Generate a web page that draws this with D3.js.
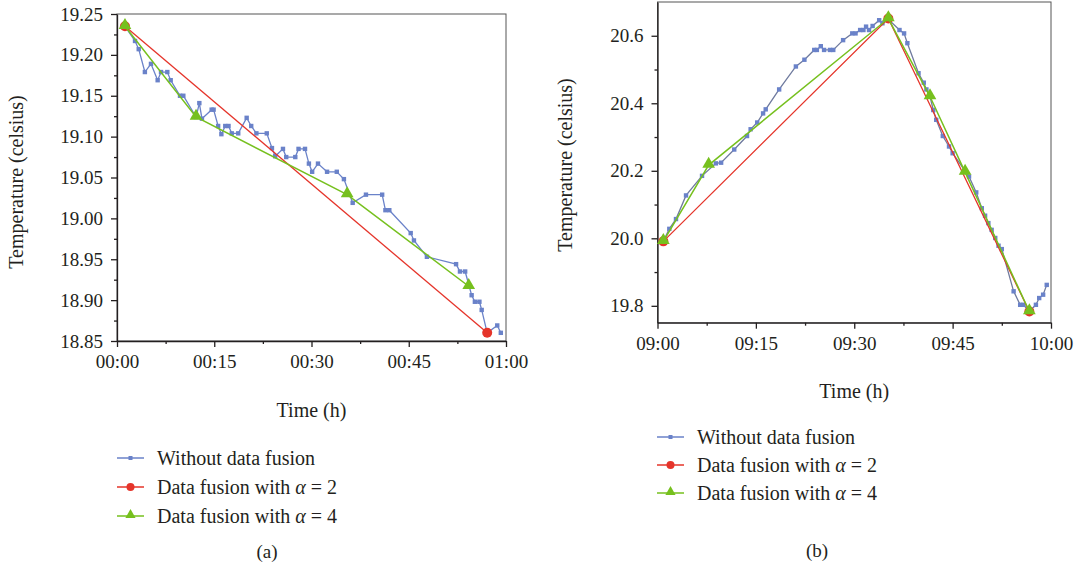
<!DOCTYPE html>
<html>
<head lang="en">
    <meta charset="UTF-8">
    <script type="text/javascript" src="https://cdn.jsdelivr.net/npm/d3@7"></script>
    <title></title>
</head>
<body style="margin:0;background:#fff">
<style>
    .axis path, .axis line{ stroke: #231f20; stroke-width: 1.3; }
</style>
<script type="text/javascript">
    // ---- panel (a) data: minutes after 00:00 ----
    var aBlueMin = [1.23, 2.78, 3.35, 4.3, 5.24, 6.27, 6.79, 7.76, 8.28, 9.72, 10.23, 12.2, 12.7, 13.1, 14.6, 14.9, 15.6, 16.1, 16.7, 17.2, 17.7, 18.7, 20.0, 20.7, 21.5, 23.1, 23.9, 24.4, 25.6, 26.1, 27.5, 28.0, 29.0, 29.6, 30.1, 31.0, 32.4, 33.9, 35.0, 36.35, 38.4, 40.9, 41.4, 42.0, 45.3, 45.8, 47.8, 52.3, 52.9, 53.7, 54.7, 55.2, 55.9, 56.25, 57.1, 58.65, 59.2];
    var aBlueTemp = [19.235, 19.217, 19.207, 19.179, 19.189, 19.169, 19.179, 19.179, 19.169, 19.150, 19.150, 19.124, 19.141, 19.122, 19.133, 19.133, 19.113, 19.103, 19.113, 19.113, 19.104, 19.104, 19.123, 19.113, 19.104, 19.104, 19.086, 19.076, 19.085, 19.075, 19.075, 19.085, 19.085, 19.067, 19.057, 19.067, 19.057, 19.057, 19.048, 19.019, 19.029, 19.029, 19.010, 19.010, 18.982, 18.973, 18.953, 18.944, 18.935, 18.935, 18.906, 18.898, 18.898, 18.888, 18.860, 18.869, 18.860];
    var aRedMin = [1.23, 57.1];
    var aRedTemp = [19.235, 18.860];
    var aGreenMin = [1.23, 12.19, 35.5, 54.25];
    var aGreenTemp = [19.235, 19.124, 19.029, 18.917];
    var aYTicks = [18.85, 18.90, 18.95, 19.00, 19.05, 19.10, 19.15, 19.20, 19.25];

    // ---- panel (b) data: minutes after 09:00 ----
    var bBlueMin = [0.89, 1.8, 2.82, 4.35, 6.79, 8.9, 9.7, 11.7, 13.65, 14.2, 15.2, 16.1, 16.5, 18.55, 21.1, 22.4, 23.9, 24.3, 24.9, 25.4, 26.3, 26.8, 28.3, 29.7, 30.2, 30.9, 31.4, 31.8, 32.25, 32.8, 33.8, 34.3, 35.2, 36.9, 37.6, 38.1, 39.8, 40.6, 41.0, 41.55, 42.05, 42.5, 43.5, 44.45, 45.0, 47.5, 48.6, 49.45, 49.95, 50.45, 50.95, 51.5, 52.0, 52.5, 54.3, 55.3, 55.8, 56.7, 57.7, 58.2, 58.8, 59.35];
    var bBlueTemp = [19.991, 20.028, 20.057, 20.127, 20.185, 20.222, 20.224, 20.263, 20.303, 20.323, 20.343, 20.370, 20.382, 20.441, 20.509, 20.529, 20.558, 20.558, 20.569, 20.558, 20.558, 20.558, 20.587, 20.607, 20.607, 20.617, 20.617, 20.627, 20.617, 20.629, 20.646, 20.637, 20.649, 20.617, 20.607, 20.578, 20.489, 20.461, 20.441, 20.420, 20.380, 20.351, 20.303, 20.272, 20.252, 20.183, 20.136, 20.089, 20.067, 20.045, 20.025, 20.001, 19.978, 19.968, 19.843, 19.803, 19.803, 19.783, 19.803, 19.823, 19.833, 19.862];
    var bRedMin = [0.89, 35.2, 56.7];
    var bRedTemp = [19.991, 20.651, 19.783];
    var bGreenMin = [0.89, 7.8, 35.2, 41.55, 46.9, 56.7];
    var bGreenTemp = [19.991, 20.217, 20.651, 20.420, 20.196, 19.783];
    var bYTicks = [19.8, 20.0, 20.2, 20.4, 20.6];

    var xTicks = [0, 15, 30, 45, 60];
    var seriesNames = ["Without data fusion", "Data fusion with ", "Data fusion with "];
    var seriesAlpha = ["", "2", "4"];

    var blue = "#6a82c9", red = "#e5342a", green = "#76c01e";
    var font = "Liberation Serif";

    var svg = d3.select("body").append("svg")
            .attr("width", 1079)
            .attr("height", 572)
            .attr("font-family", font);

    function zip(m, t){ return m.map(function(d, i){ return {m: d, t: t[i]}; }); }
    function pad(n){ return (n < 10 ? "0" : "") + n; }

    function panel(o){
        var x = d3.scaleLinear().domain([0, 60]).range([o.left, o.right]);
        var y = d3.scaleLinear().domain(o.yDomain).range([o.bottom, o.top]);
        var g = svg.append("g");

        // frame
        g.append("rect").attr("x", o.left).attr("y", o.top)
            .attr("width", o.right - o.left).attr("height", o.bottom - o.top)
            .attr("fill", "none").attr("stroke", "#555").attr("stroke-width", 1);

        // minor ticks
        g.append("g").attr("class", "axis").attr("transform", "translate(0," + o.bottom + ")")
            .call(d3.axisBottom(x).tickValues([7.5, 22.5, 37.5, 52.5]).tickSize(3).tickFormat(""))
            .select(".domain").remove();
        g.append("g").attr("class", "axis").attr("transform", "translate(" + o.left + ",0)")
            .call(d3.axisLeft(y).tickValues(o.yMinor).tickSize(3).tickFormat(""))
            .select(".domain").remove();

        // major axes
        g.append("g").attr("class", "axis").attr("transform", "translate(0," + o.bottom + ")")
            .call(d3.axisBottom(x).tickValues(xTicks).tickSize(6).tickSizeOuter(0).tickPadding(8)
                .tickFormat(function(d){ return pad(o.hour + Math.floor(d / 60)) + ":" + pad(d % 60); }));
        g.append("g").attr("class", "axis").attr("transform", "translate(" + o.left + ",0)")
            .call(d3.axisLeft(y).tickValues(o.yTicks).tickSize(6).tickSizeOuter(0).tickPadding(8)
                .tickFormat(d3.format(o.fmt)));
        g.selectAll(".axis text").attr("font-size", 19).attr("font-family", font).attr("fill", "#231f20");

        // titles
        g.append("text").attr("x", (o.left + o.right) / 2).attr("y", o.xTitleY)
            .attr("text-anchor", "middle").attr("font-size", 20).attr("fill", "#231f20").text("Time (h)");
        g.append("text").attr("transform", "translate(" + o.yTitleX + "," + o.yTitleC + ") rotate(-90)")
            .attr("text-anchor", "middle").attr("font-size", 20).attr("fill", "#231f20").text("Temperature (celsius)");

        var line = d3.line().x(function(d){ return x(d.m); }).y(function(d){ return y(d.t); });
        var bd = zip(o.blueM, o.blueT), rd = zip(o.redM, o.redT), gd = zip(o.greenM, o.greenT);

        g.append("path").datum(bd).attr("d", line).attr("fill", "none")
            .attr("stroke", o.blueLine).attr("stroke-width", 1.3);
        g.selectAll(".sq").data(bd).enter().append("rect")
            .attr("x", function(d){ return x(d.m) - 2.2; }).attr("y", function(d){ return y(d.t) - 2.2; })
            .attr("width", 4.4).attr("height", 4.4).attr("fill", blue);

        g.append("path").datum(rd).attr("d", line).attr("fill", "none")
            .attr("stroke", red).attr("stroke-width", 1.3);
        g.selectAll(".ci").data(rd).enter().append("circle")
            .attr("cx", function(d){ return x(d.m); }).attr("cy", function(d){ return y(d.t); })
            .attr("r", 5).attr("fill", red);

        g.append("path").datum(gd).attr("d", line).attr("fill", "none")
            .attr("stroke", green).attr("stroke-width", 1.5);
        g.selectAll(".tr").data(gd).enter().append("path")
            .attr("d", d3.symbol().type(d3.symbolTriangle).size(70))
            .attr("transform", function(d){ return "translate(" + x(d.m) + "," + (y(d.t) - 1) + ")"; })
            .attr("fill", green);

        // legend
        var cols = [blue, red, green];
        seriesNames.forEach(function(name, i){
            var ly = o.legY + i * o.legStep;
            g.append("line").attr("x1", o.legX).attr("x2", o.legX + 27).attr("y1", ly).attr("y2", ly)
                .attr("stroke", cols[i]).attr("stroke-width", 1.5);
            var cx = o.legX + 13.5;
            if (i == 0) g.append("rect").attr("x", cx - 2).attr("y", ly - 2).attr("width", 4).attr("height", 4).attr("fill", blue);
            if (i == 1) g.append("circle").attr("cx", cx).attr("cy", ly).attr("r", 4).attr("fill", red);
            if (i == 2) g.append("path").attr("d", d3.symbol().type(d3.symbolTriangle).size(45))
                .attr("transform", "translate(" + cx + "," + (ly - 1) + ")").attr("fill", green);
            var t = g.append("text").attr("x", o.legX + 40).attr("y", ly + 7).attr("font-size", 20)
                .attr("fill", "#231f20").text(name);
            if (seriesAlpha[i]) {
                t.append("tspan").attr("font-style", "italic").text("\u03b1");
                t.append("tspan").text(" = " + seriesAlpha[i]);
            }
        });

        g.append("text").attr("x", o.labX).attr("y", o.labY).attr("text-anchor", "middle")
            .attr("font-size", 19).attr("fill", "#231f20").text(o.label);
    }

    panel({
        left: 117, right: 506, top: 14, bottom: 341, yDomain: [18.85, 19.25],
        yTicks: aYTicks, yMinor: [18.875, 18.925, 18.975, 19.025, 19.075, 19.125, 19.175, 19.225],
        fmt: ".2f", hour: 0, xTitleY: 417, yTitleX: 23, yTitleC: 182,
        blueM: aBlueMin, blueT: aBlueTemp, redM: aRedMin, redT: aRedTemp, greenM: aGreenMin, greenT: aGreenTemp,
        blueLine: blue, legX: 117, legY: 458, legStep: 29, label: "(a)", labX: 267, labY: 558
    });

    panel({
        left: 657.5, right: 1051, top: 2, bottom: 322.7, yDomain: [19.75, 20.7],
        yTicks: bYTicks, yMinor: [19.9, 20.1, 20.3, 20.5],
        fmt: ".1f", hour: 9, xTitleY: 398, yTitleX: 572, yTitleC: 165,
        blueM: bBlueMin, blueT: bBlueTemp, redM: bRedMin, redT: bRedTemp, greenM: bGreenMin, greenT: bGreenTemp,
        blueLine: "#6f7a9e", legX: 657, legY: 437, legStep: 28, label: "(b)", labX: 817, labY: 557
    });
</script>
</body>
</html>
